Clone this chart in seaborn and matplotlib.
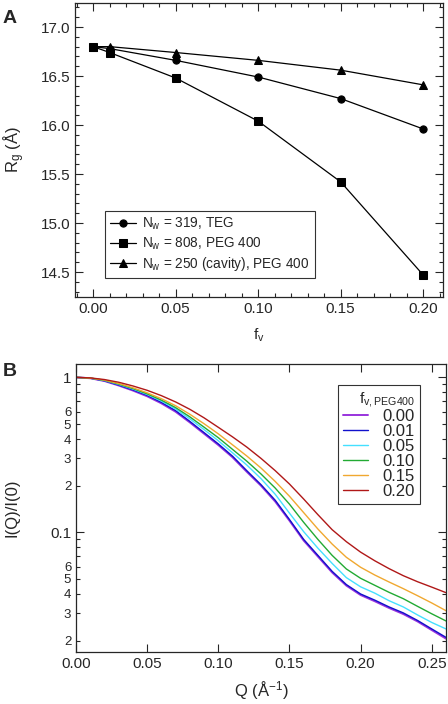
import numpy as np
import pandas as pd
import seaborn as sns
import matplotlib
matplotlib.use("Agg")
from matplotlib import pyplot as plt
from matplotlib.ticker import MultipleLocator, LogLocator, FixedLocator, FuncFormatter

# ---- panel A data: Rg vs volume fraction
fv = [0.00, 0.01, 0.05, 0.10, 0.15, 0.20]
rg_teg = [16.80, 16.78, 16.66, 16.49, 16.27, 15.96]
rg_peg = [16.80, 16.74, 16.48, 16.04, 15.42, 14.47]
rg_cavity = [16.80, 16.80, 16.74, 16.66, 16.56, 16.41]
labels_a = [r"N$_\mathrm{w}$ = 319, TEG",
            r"N$_\mathrm{w}$ = 808, PEG 400",
            r"N$_\mathrm{w}$ = 250 (cavity), PEG 400"]

# ---- panel B data: normalised scattering curves
q = [0.00, 0.01, 0.02, 0.03, 0.04, 0.05, 0.06, 0.07, 0.08, 0.09, 0.10, 0.11, 0.12, 0.13,
     0.14, 0.15, 0.16, 0.17, 0.18, 0.19, 0.20, 0.21, 0.22, 0.23, 0.24, 0.25, 0.26]
i_000 = [1.000, 0.987, 0.947, 0.886, 0.822, 0.755, 0.680, 0.600, 0.512, 0.433, 0.366, 0.305, 0.246, 0.200,
         0.158, 0.119, 0.0885, 0.0698, 0.0551, 0.0453, 0.0394, 0.0359, 0.0325, 0.0297, 0.0266, 0.0234, 0.0206]
i_001 = [1.000, 0.988, 0.950, 0.892, 0.830, 0.765, 0.690, 0.610, 0.520, 0.440, 0.372, 0.310, 0.250, 0.203,
         0.161, 0.121, 0.090, 0.071, 0.056, 0.046, 0.040, 0.0365, 0.0330, 0.0302, 0.0270, 0.0238, 0.0210]
i_005 = [1.000, 0.989, 0.955, 0.900, 0.840, 0.775, 0.703, 0.625, 0.540, 0.460, 0.390, 0.326, 0.272, 0.222,
         0.176, 0.133, 0.101, 0.079, 0.063, 0.051, 0.0445, 0.0405, 0.0362, 0.0330, 0.0293, 0.0262, 0.0238]
i_010 = [1.000, 0.989, 0.957, 0.905, 0.847, 0.783, 0.713, 0.638, 0.556, 0.477, 0.408, 0.343, 0.288, 0.238,
         0.193, 0.152, 0.116, 0.090, 0.071, 0.058, 0.0505, 0.0455, 0.0410, 0.0373, 0.0333, 0.0298, 0.0268]
i_015 = [1.000, 0.990, 0.960, 0.912, 0.856, 0.795, 0.728, 0.656, 0.578, 0.502, 0.432, 0.367, 0.311, 0.260,
         0.213, 0.171, 0.134, 0.105, 0.084, 0.069, 0.0595, 0.0530, 0.0478, 0.0433, 0.0390, 0.0350, 0.0312]
i_020 = [1.000, 0.992, 0.968, 0.930, 0.880, 0.825, 0.762, 0.694, 0.622, 0.548, 0.476, 0.413, 0.355, 0.300,
         0.250, 0.205, 0.164, 0.130, 0.104, 0.087, 0.0745, 0.0655, 0.0583, 0.0525, 0.0480, 0.0443, 0.0408]
fv_peg = ["0.00", "0.01", "0.05", "0.10", "0.15", "0.20"]
curve_colors = ["#9933dd", "#1111cc", "#44e0ff", "#22aa33", "#f0a830", "#b01818"]

sns.set_style("ticks")
plt.rcParams["font.family"] = ["Liberation Sans", "DejaVu Sans"]
plt.rcParams["mathtext.fontset"] = "custom"
plt.rcParams["mathtext.rm"] = "Liberation Sans"
plt.rcParams["mathtext.it"] = "Liberation Sans"
plt.rcParams["xtick.direction"] = "in"
plt.rcParams["ytick.direction"] = "in"

fig = plt.figure(figsize=(4.48, 7.04), dpi=100)
axA = fig.add_axes([0.1674, 0.5781, 0.8214, 0.4176])
axB = fig.add_axes([0.1696, 0.0739, 0.8259, 0.4091])

# ---- panel A
for ys, mk, lab in zip([rg_teg, rg_peg, rg_cavity], ["o", "s", "^"], labels_a):
    sns.lineplot(x=fv, y=ys, ax=axA, color="black", lw=0.9, marker=mk,
                 markersize=5.2, markeredgecolor="black", label=lab)
axA.set_xlim(-0.011, 0.212)
axA.set_ylim(14.245, 17.245)
axA.xaxis.set_major_locator(MultipleLocator(0.05))
axA.xaxis.set_minor_locator(MultipleLocator(0.01))
axA.yaxis.set_major_locator(MultipleLocator(0.5))
axA.yaxis.set_minor_locator(MultipleLocator(0.1))
axA.xaxis.set_major_formatter(FuncFormatter(lambda v, p: f"{v:.2f}"))
axA.yaxis.set_major_formatter(FuncFormatter(lambda v, p: f"{v:.1f}"))
axA.set_xlabel(r"f$_\mathrm{v}$", fontsize=11, labelpad=8)
axA.set_ylabel("R$_\\mathrm{g}$ (Å)", fontsize=12, labelpad=10)
legA = axA.legend(loc="lower left", bbox_to_anchor=(0.0815, 0.0646), borderaxespad=0,
                  fontsize=9.8, frameon=True, fancybox=False, edgecolor="black",
                  handlelength=1.9, borderpad=0.35, labelspacing=0.25, handletextpad=0.5)
legA.get_frame().set_linewidth(0.8)
fig.text(0.006, 0.968, "A", fontsize=14, fontweight="bold")

# ---- panel B
for ys, lab, col in zip([i_000, i_001, i_005, i_010, i_015, i_020], fv_peg, curve_colors):
    lw = 1.4 if lab == "0.00" else 1.0
    sns.lineplot(x=q, y=ys, ax=axB, color=col, lw=lw, label=lab)
axB.set_yscale("log")
axB.set_xlim(0, 0.26)
axB.set_ylim(0.0169, 1.22)
axB.xaxis.set_major_locator(MultipleLocator(0.05))
axB.xaxis.set_major_formatter(FuncFormatter(lambda v, p: f"{v:.2f}"))
axB.yaxis.set_major_locator(FixedLocator([0.1, 1.0]))
axB.yaxis.set_major_formatter(FuncFormatter(lambda v, p: "1" if v > 0.5 else "0.1"))
axB.yaxis.set_minor_locator(LogLocator(base=10, subs=np.arange(2, 10), numticks=20))


def minor_fmt(v, p):
    d = int(round(v / 10 ** np.floor(np.log10(v) + 1e-9)))
    return str(d) if 2 <= d <= 6 else ""


axB.yaxis.set_minor_formatter(FuncFormatter(minor_fmt))
axB.set_xlabel("Q (Å$^{-1}$)", fontsize=12, labelpad=6)
axB.set_ylabel("I(Q)/I(0)", fontsize=12, labelpad=22)
legB = axB.legend(loc="upper right", bbox_to_anchor=(0.93, 0.927), borderaxespad=0,
                  fontsize=12, frameon=True, fancybox=False, edgecolor="black",
                  handlelength=1.5, borderpad=0.3, labelspacing=0.0, handletextpad=0.9,
                  title=r"f$_\mathrm{v,PEG400}$", title_fontsize=11)
legB.get_frame().set_linewidth(0.8)
legB._legend_box.align = "right"
fig.text(0.006, 0.466, "B", fontsize=14, fontweight="bold")

for ax in (axA, axB):
    ax.tick_params(which="both", top=True, right=True, labelsize=11, width=0.8)
    ax.tick_params(which="major", length=6)
    ax.tick_params(which="minor", length=3)
    for s in ax.spines.values():
        s.set_linewidth(0.9)
        s.set_visible(True)
axB.tick_params(axis="y", which="minor", labelsize=9.5)

fig.savefig("out.png", dpi=100)
